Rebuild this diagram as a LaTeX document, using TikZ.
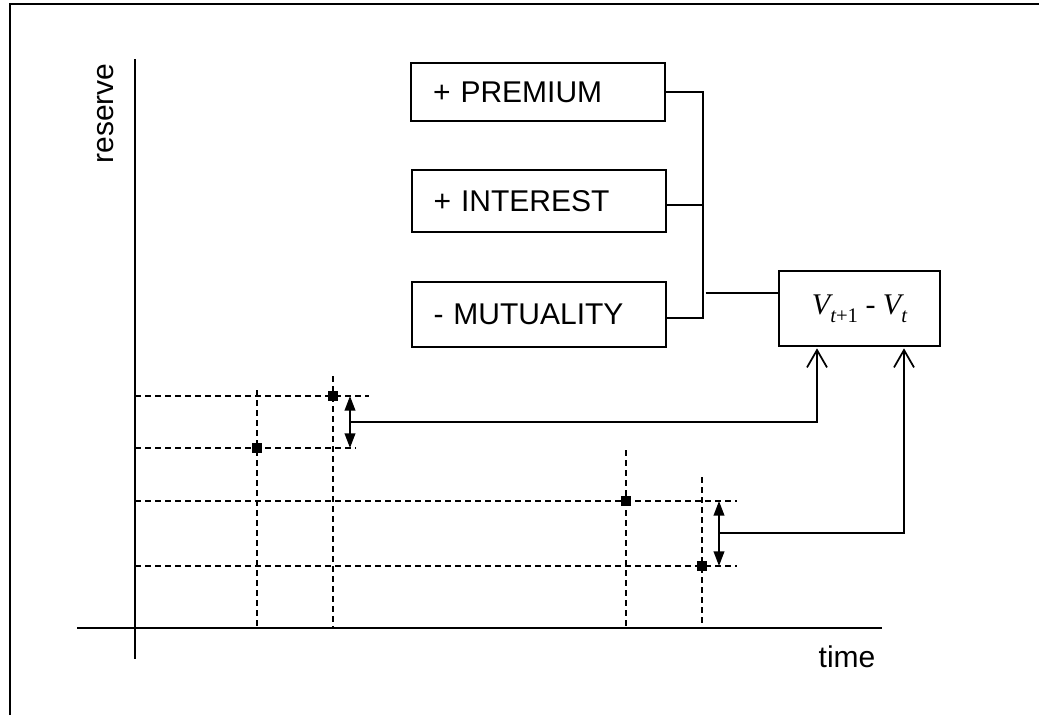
\documentclass[tikz,border=0pt]{standalone}
\usepackage{fontspec}
\setmainfont{Liberation Sans}
\newfontfamily\serifmath{Liberation Serif}
\usetikzlibrary{arrows.meta}

\tikzset{
  every node/.style={font=\fontsize{22.5}{27}\selectfont},
  termbox/.style={draw, line width=1.5pt, minimum width=190.5pt,
    text width=157.5pt, inner xsep=16.5pt, inner ysep=0pt, align=left},
  resultbox/.style={draw, line width=1.5pt, minimum width=120.75pt,
    minimum height=56.25pt, inner sep=0pt},
  wire/.style={line width=1.5pt},
  axis/.style={line width=1.6pt},
  guide/.style={line width=1.2pt, dash pattern=on 4.5pt off 3pt},
  dotmark/.style={fill=black, minimum size=7pt, inner sep=0pt},
  gap/.style={line width=1.3pt, {Triangle[length=11pt,width=8pt]}-{Triangle[length=11pt,width=8pt]}},
  feed/.style={line width=1.5pt, -{Straight Barb[length=13pt,width=15pt,line width=1.3pt]}}
}

\begin{document}
\begin{tikzpicture}[x=0.75pt, y=-0.75pt]
  \useasboundingbox (0,0) rectangle (1039,715);

  % page frame (left and top edges)
  \draw[line width=1.8pt] (10,715) -- (10,4) -- (1039,4);

  % axes
  \coordinate (O) at (135,628);
  \coordinate (ytop) at (135,59);
  \coordinate (ybot) at (135,659);
  \coordinate (xleft) at (77,628);
  \coordinate (xright) at (882,628);
  \draw[axis] (ytop) -- (ybot);
  \draw[axis] (xleft) -- (xright);
  \node[rotate=90, anchor=base] (ylab) at (113,113.5) {reserve};
  \node[anchor=base] (xlab) at (847,667) {time};

  % components of the reserve change
  \node[termbox, minimum height=43.5pt] (prem) at (538,92) {+ PREMIUM};
  \node[termbox, minimum height=46.5pt] (inter) at (538.5,201) {+ INTEREST};
  \node[termbox, minimum height=48.75pt] (mutu) at (538.5,314) {- MUTUALITY};
  \node[resultbox] (delta) at (859.5,308.5)
    {\serifmath\itshape V\raisebox{-0.28em}{\fontsize{15.5}{17}\selectfont t\upshape+1}\upshape\ - \itshape V\raisebox{-0.28em}{\fontsize{15.5}{17}\selectfont t}};

  % bracket collecting the three components
  \coordinate (bus) at (703,0);
  \coordinate (join) at (703,293);
  \draw[wire] (prem.east) -- (prem.east -| bus) -- ([yshift=-3pt]mutu.east -| bus) -- ([yshift=-3pt]mutu.east);
  \draw[wire] ([yshift=-3pt]inter.east) -- ([yshift=-3pt]inter.east -| bus);
  \draw[wire] ([xshift=2pt]join) -- (join -| delta.west);

  % reserve values at successive times
  \node[dotmark] (p1) at (257,448) {};
  \node[dotmark] (p2) at (333,396) {};
  \node[dotmark] (q1) at (626,501) {};
  \node[dotmark] (q2) at (702,566) {};

  % guide lines to the axes
  \draw[guide] (p2 -| O) -- (369,396);
  \draw[guide] (p1 -| O) -- (356,448);
  \draw[guide] (q1 -| O) -- (737,501);
  \draw[guide] (q2 -| O) -- (737,566);
  \draw[guide] (257,390) -- (p1 |- O);
  \draw[guide] (333,376) -- (p2 |- O);
  \draw[guide] (626,450) -- (q1 |- O);
  \draw[guide] (702,477) -- (q2 |- O);

  % differences fed into the result
  \coordinate (d1t) at (350,396);
  \coordinate (d1b) at (350,448);
  \coordinate (d1m) at (350,422);
  \coordinate (d2t) at (719,501);
  \coordinate (d2b) at (719,566);
  \coordinate (d2m) at (719,533);
  \coordinate (in1) at (817,0);
  \coordinate (in2) at (904,0);
  \draw[gap] (d1t) -- (d1b);
  \draw[gap] (d2t) -- (d2b);
  \draw[feed] (d1m) -| ([yshift=-1pt]delta.south -| in1);
  \draw[feed] (d2m) -| ([yshift=-1pt]delta.south -| in2);
\end{tikzpicture}
\end{document}
